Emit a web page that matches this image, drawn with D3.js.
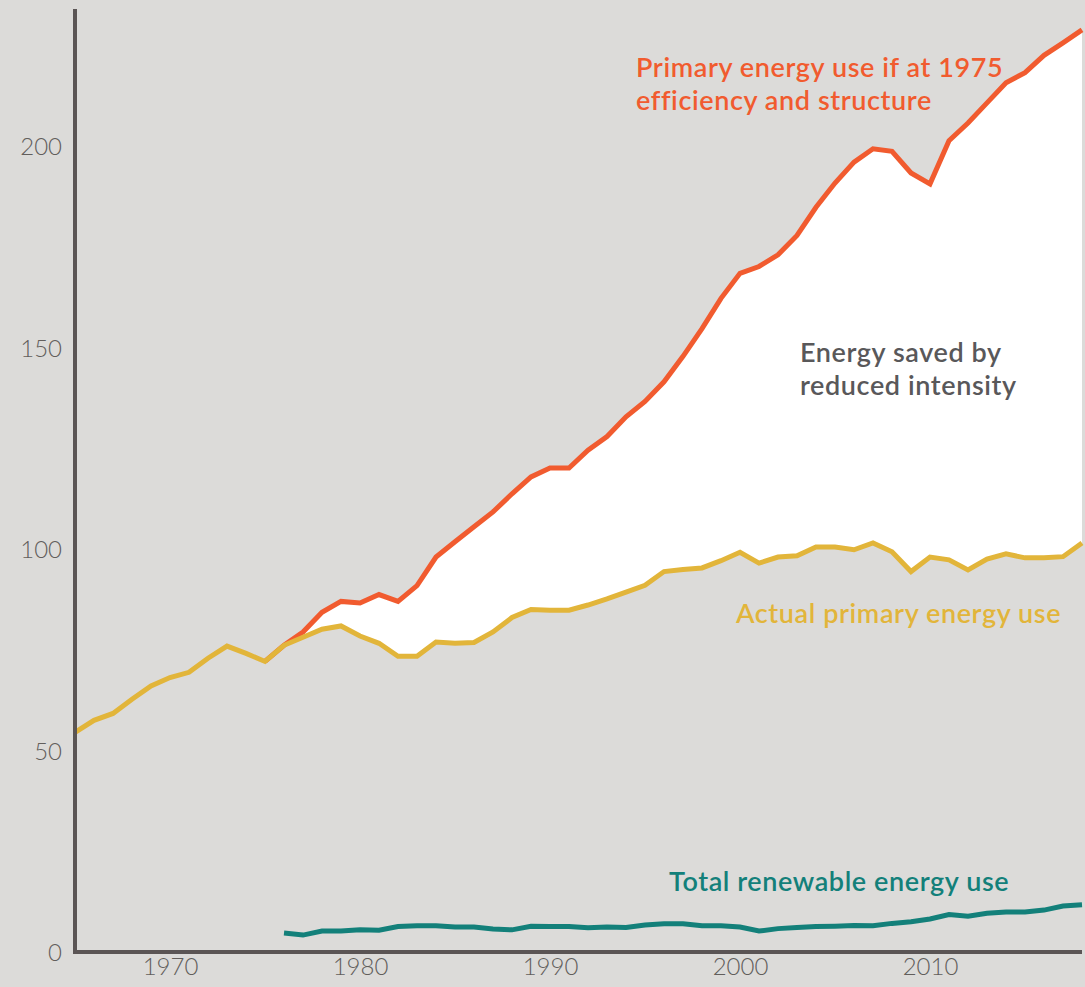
<!DOCTYPE html>
<html>
<head>
<meta charset="utf-8">
<script src="https://cdn.jsdelivr.net/npm/d3@7"></script>
<style>
  body { margin: 0; background: #dcdbd9; }
  svg { display: block; }
  .tick text { font-family: Lato, "Open Sans", sans-serif; font-weight: 300; fill: #625e5c; }
</style>
</head>
<body>
<div id="chart"></div>
<script>
const years = d3.range(1965, 2019);

// actual primary energy use, 1965-2018
const actualUse = [54.5, 57.5, 59.2, 62.7, 66.0, 68.1, 69.4, 72.9, 75.9, 74.1,
  72.1, 76.1, 78.1, 80.1, 80.9, 78.4, 76.6, 73.4, 73.4, 76.9,
  76.6, 76.8, 79.4, 83.0, 85.0, 84.8, 84.8, 86.1, 87.6, 89.3,
  91.0, 94.4, 94.9, 95.3, 97.1, 99.2, 96.5, 98.0, 98.3, 100.5,
  100.5, 99.8, 101.5, 99.3, 94.4, 98.0, 97.3, 94.8, 97.5, 98.8,
  97.8, 97.8, 98.1, 101.5];

// primary energy use if at 1975 efficiency and structure, 1975-2018
const frozenYears = d3.range(1975, 2019);
const frozenUse = [72.1, 76.1, 79.4, 84.3, 87.0, 86.6, 88.7, 87.0, 90.9, 98.0,
  101.8, 105.5, 109.2, 113.7, 117.9, 120.1, 120.1, 124.5, 127.9, 132.8,
  136.6, 141.5, 147.8, 154.7, 162.2, 168.4, 170.1, 173.0, 177.8, 184.8,
  190.8, 196.0, 199.3, 198.7, 193.3, 190.6, 201.3, 205.7, 210.7, 215.7,
  218.2, 222.5, 225.6, 228.8];

// total renewable energy use, 1976-2018
const renewYears = d3.range(1976, 2019);
const renewUse = [4.7, 4.2, 5.2, 5.2, 5.5, 5.4, 6.3, 6.5, 6.5, 6.2,
  6.2, 5.7, 5.5, 6.4, 6.3, 6.3, 6.0, 6.2, 6.1, 6.7,
  7.0, 7.0, 6.5, 6.5, 6.2, 5.2, 5.8, 6.1, 6.3, 6.4,
  6.6, 6.5, 7.1, 7.5, 8.2, 9.3, 8.9, 9.6, 9.9, 9.9,
  10.4, 11.4, 11.7];

const yTicks = [0, 50, 100, 150, 200];
const xTicks = [1970, 1980, 1990, 2000, 2010];

const W = 1085, H = 987;
const svg = d3.select("#chart").append("svg")
  .attr("width", W)
  .attr("height", H);

svg.append("rect").attr("width", W).attr("height", H).attr("fill", "#dcdbd9");

const x = d3.scaleLinear().domain([1965, 2018]).range([75, 1082]);
const y = d3.scaleLinear().domain([0, 200]).range([952, 146]);

const actual = years.map((yr, i) => ({ year: yr, v: actualUse[i] }));
const frozen = frozenYears.map((yr, i) => ({ year: yr, v: frozenUse[i] }));
const renew = renewYears.map((yr, i) => ({ year: yr, v: renewUse[i] }));

// white band: energy saved by reduced intensity
const band = frozen.map(d => ({ year: d.year, hi: d.v, lo: actualUse[d.year - 1965] }));
svg.append("path")
  .datum(band)
  .attr("fill", "#ffffff")
  .attr("d", d3.area().x(d => x(d.year)).y0(d => y(d.lo)).y1(d => y(d.hi)));

const line = d3.line().x(d => x(d.year)).y(d => y(d.v));

svg.append("path").datum(frozen)
  .attr("fill", "none").attr("stroke", "#f15b2f").attr("stroke-width", 5)
  .attr("d", line);

svg.append("path").datum(actual)
  .attr("fill", "none").attr("stroke", "#e2b53a").attr("stroke-width", 5)
  .attr("d", line);

svg.append("path").datum(renew)
  .attr("fill", "none").attr("stroke", "#13807a").attr("stroke-width", 5)
  .attr("d", line);

// axes
const yAxis = svg.append("g")
  .attr("transform", "translate(62,0)")
  .call(d3.axisLeft(y).tickValues(yTicks).tickSize(0).tickPadding(0));
yAxis.select(".domain").remove();
yAxis.selectAll("text").style("font-size", "24px").attr("dy", "0.36em");

const xAxis = svg.append("g")
  .attr("transform", "translate(0,958)")
  .call(d3.axisBottom(x).tickValues(xTicks).tickFormat(d3.format("d")).tickSize(0).tickPadding(0));
xAxis.select(".domain").remove();
xAxis.selectAll("text").style("font-size", "24px").attr("dy", "0.72em");

svg.append("line")
  .attr("x1", 75).attr("x2", 75).attr("y1", 9).attr("y2", y(0) + 2)
  .attr("stroke", "#5b5555").attr("stroke-width", 4);
svg.append("line")
  .attr("x1", 73).attr("x2", x(2018)).attr("y1", y(0)).attr("y2", y(0))
  .attr("stroke", "#5b5555").attr("stroke-width", 4);

// annotations
function label(lines, px, py, color) {
  const t = svg.append("text")
    .attr("x", px).attr("y", py)
    .attr("fill", color)
    .style("font-family", "Lato, 'Open Sans', sans-serif")
    .style("font-weight", 600)
    .style("font-size", "27px")
    .style("letter-spacing", "0.6px");
  lines.forEach((s, i) => {
    t.append("tspan").attr("x", px).attr("dy", i === 0 ? 0 : 33).text(s);
  });
}

label(["Primary energy use if at 1975", "efficiency and structure"], 636, 77, "#f15b2f");
label(["Energy saved by", "reduced intensity"], 800, 362, "#59585a");
label(["Actual primary energy use"], 736, 623, "#e2b53a");
label(["Total renewable energy use"], 669, 891, "#13807a");
</script>
</body>
</html>
